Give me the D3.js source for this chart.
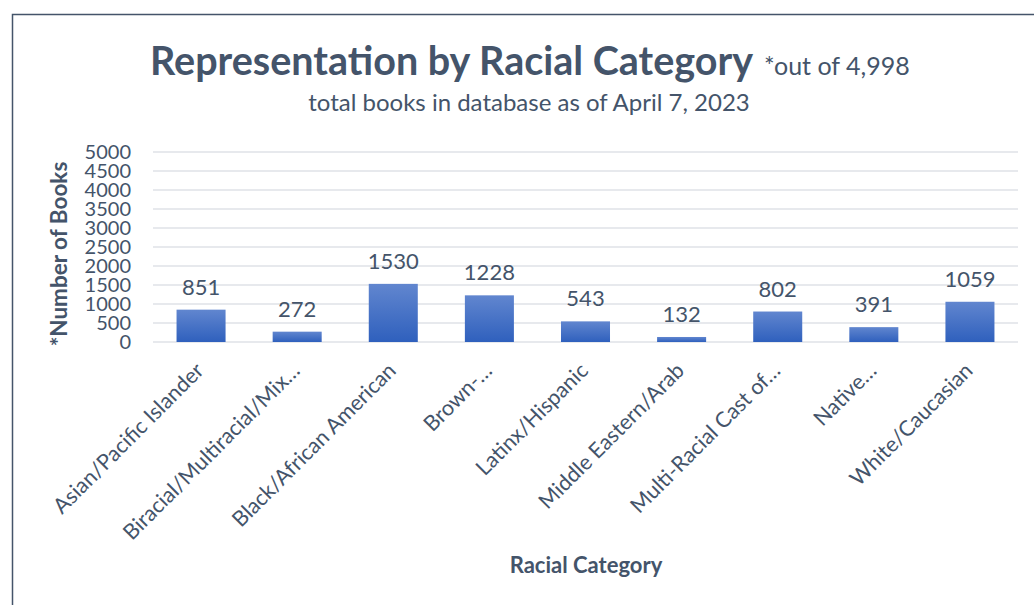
<!DOCTYPE html>
<html>
<head>
<meta charset="utf-8">
<script src="https://cdn.jsdelivr.net/npm/d3@7"></script>
<style>
  html, body { margin: 0; padding: 0; background: #fff; }
  svg { display: block; font-family: Lato, "Open Sans", sans-serif; }
</style>
</head>
<body>
<svg id="chart" width="1034" height="605"></svg>
<script>
// Racial category counts (books in database)
const categories = [
  "Asian/Pacific Islander",
  "Biracial/Multiracial/Mix…",
  "Black/African American",
  "Brown-…",
  "Latinx/Hispanic",
  "Middle Eastern/Arab",
  "Multi-Racial Cast of…",
  "Native…",
  "White/Caucasian"
];
const bookCounts = [851, 272, 1530, 1228, 543, 132, 802, 391, 1059];
const yTicks = [0, 500, 1000, 1500, 2000, 2500, 3000, 3500, 4000, 4500, 5000];

const titleText = "Representation by Racial Category";
const titleNote = "*out of 4,998";
const subtitleText = "total books in database as of April 7, 2023";
const yAxisTitle = "*Number of Books";
const xAxisTitle = "Racial Category";

const ink = "#44546a";
const svg = d3.select("#chart");

// Frame around the chart area
svg.append("rect")
  .attr("x", 12.5).attr("y", 14.5)
  .attr("width", 1100).attr("height", 700)
  .attr("fill", "none")
  .attr("stroke", ink)
  .attr("stroke-width", 1.5);

const plot = { left: 153, right: 1018, top: 152, bottom: 342 };

const x = d3.scaleBand()
  .domain(categories)
  .range([plot.left, plot.right])
  .paddingInner(0.49)
  .paddingOuter(0.245);

const y = d3.scaleLinear()
  .domain([0, 5000])
  .range([plot.bottom, plot.top]);

// Bar fill gradient
const defs = svg.append("defs");
const grad = defs.append("linearGradient")
  .attr("id", "barGrad")
  .attr("x1", 0).attr("y1", 0).attr("x2", 0).attr("y2", 1);
grad.append("stop").attr("offset", "0%").attr("stop-color", "#6186cf");
grad.append("stop").attr("offset", "100%").attr("stop-color", "#2f60bd");

// Gridlines
svg.append("g")
  .selectAll("line")
  .data(yTicks)
  .join("line")
  .attr("x1", plot.left).attr("x2", plot.right)
  .attr("y1", d => y(d)).attr("y2", d => y(d))
  .attr("stroke", "#dfe2e7")
  .attr("stroke-width", 1.5);

// Y axis labels
const yAxis = svg.append("g")
  .attr("transform", `translate(${plot.left - 22},0)`)
  .call(d3.axisLeft(y).tickValues(yTicks).tickSize(0).tickPadding(0).tickFormat(d3.format("d")));
yAxis.select(".domain").remove();
yAxis.selectAll("text")
  .attr("fill", ink)
  .attr("font-size", 20)
  .attr("font-family", "Lato, sans-serif");

// Bars
svg.append("g")
  .selectAll("rect")
  .data(bookCounts)
  .join("rect")
  .attr("x", (d, i) => x(categories[i]))
  .attr("y", d => y(d))
  .attr("width", x.bandwidth())
  .attr("height", d => y(0) - y(d))
  .attr("fill", "url(#barGrad)");

// Value labels
svg.append("g")
  .selectAll("text")
  .data(bookCounts)
  .join("text")
  .attr("x", (d, i) => x(categories[i]) + x.bandwidth() / 2)
  .attr("y", d => y(d) - 15)
  .attr("text-anchor", "middle")
  .attr("fill", ink)
  .attr("font-size", 22)
  .text(d => d);

// Category labels, rotated
const xAxis = svg.append("g")
  .attr("transform", `translate(0,${plot.bottom})`)
  .call(d3.axisBottom(x).tickSize(0).tickPadding(0));
xAxis.select(".domain").remove();
xAxis.selectAll("text")
  .attr("fill", ink)
  .attr("font-size", 21.5)
  .attr("font-family", "Lato, sans-serif")
  .attr("text-anchor", "end")
  .attr("dy", 0)
  .attr("transform", "translate(4,30) rotate(-45)");

// Titles
const title = svg.append("text")
  .attr("x", 150).attr("y", 75)
  .attr("fill", ink);
title.append("tspan")
  .attr("font-size", 39.5).attr("font-weight", 700)
  .text(titleText);
title.append("tspan")
  .attr("font-size", 25).attr("dx", 11)
  .text(titleNote);

svg.append("text")
  .attr("x", 529).attr("y", 111)
  .attr("text-anchor", "middle")
  .attr("fill", ink)
  .attr("font-size", 24)
  .text(subtitleText);

svg.append("text")
  .attr("transform", `translate(67,${(plot.top + plot.bottom) / 2 + 7}) rotate(-90)`)
  .attr("text-anchor", "middle")
  .attr("fill", ink)
  .attr("font-size", 22.5)
  .attr("font-weight", 700)
  .text(yAxisTitle);

svg.append("text")
  .attr("x", 586).attr("y", 573)
  .attr("text-anchor", "middle")
  .attr("fill", ink)
  .attr("font-size", 22)
  .attr("font-weight", 700)
  .text(xAxisTitle);
</script>
</body>
</html>
